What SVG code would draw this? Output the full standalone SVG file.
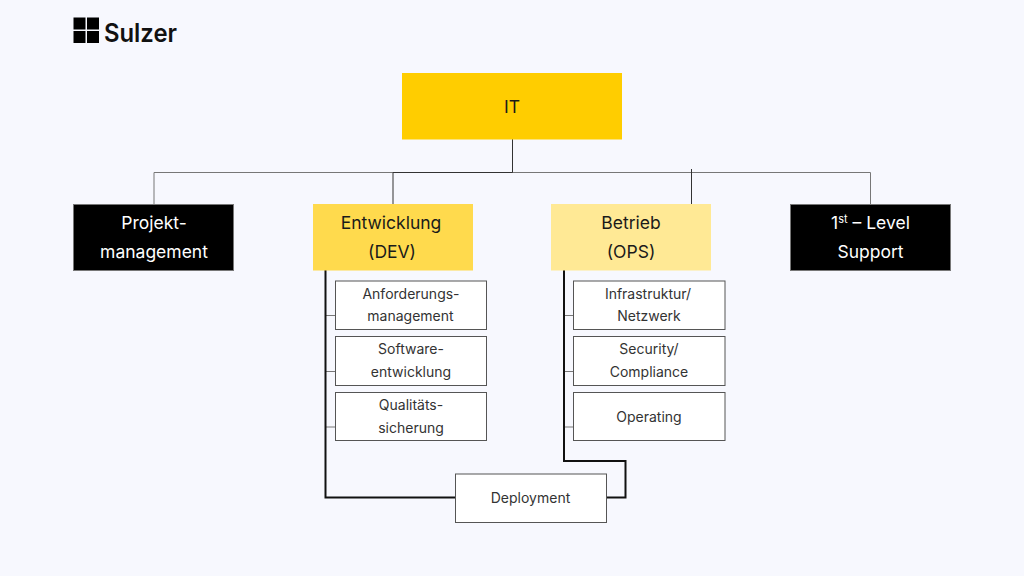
<svg xmlns="http://www.w3.org/2000/svg" width="1024" height="576" viewBox="0 0 1024 576">
<style>
text{font-family:Inter,"Liberation Sans",Arial,sans-serif;text-anchor:middle;fill:#1a1a1a}
.big{font-size:17.5px}
.small{font-size:14px;fill:#333}
.w{fill:#fff}
.box{fill:#fff;stroke:#555;stroke-width:1}
.thin{fill:none;stroke:#777;stroke-width:1}
.dark{fill:none;stroke:#333;stroke-width:1}
.thick{fill:none;stroke:#111;stroke-width:2}
</style>
<rect width="1024" height="576" fill="#f7f8fe"/>
<g id="connectors">
<path class="thin" d="M154 204V172.500H870.500V204"/>
<path class="thin" d="M326 315.500H336M326 371.500H336M326 427H336M564 315.500H574M564 371.500H574M564 427H574"/>
<path class="dark" d="M393 204V172.500H512.500V139"/>
<path class="dark" d="M691.500 204V169"/>
<path class="thick" d="M325.500 270V497.500H456"/>
<path class="thick" d="M564 270V461H625.500V497.500H606"/>
</g>
<g id="logo">
<path fill="#000" d="M73.500 17.500h12v12h-12zM87 17.500h12v12h-12zM73.500 31h12v12h-12zM87 31h12v12h-12z"/>
<text x="140.500" y="42" style="font-size:25px;font-weight:600;fill:#111" textLength="73" lengthAdjust="spacingAndGlyphs">Sulzer</text>
</g>
<g id="it"><rect x="402" y="73" width="220" height="66.500" fill="#ffcd00"/><text class="big" x="512" y="113">IT</text></g>
<g id="pm"><rect x="73.500" y="204.500" width="160" height="66" fill="#000" stroke="#777" stroke-width="1"/><text class="big w" x="154" y="229">Projekt-</text><text class="big w" x="154" y="258">management</text></g>
<g id="dev"><rect x="313" y="204" width="160" height="66.500" fill="#ffda4d"/><text class="big" x="391" y="229">Entwicklung</text><text class="big" x="392" y="258">(DEV)</text></g>
<g id="ops"><rect x="551" y="204" width="160" height="66.500" fill="#ffe995"/><text class="big" x="631" y="229">Betrieb</text><text class="big" x="631" y="258">(OPS)</text></g>
<g id="support"><rect x="790.500" y="204.500" width="160" height="66" fill="#000" stroke="#777" stroke-width="1"/><text class="big w" x="870.500" y="229">1<tspan font-size="11" dy="-6" style="fill:#fff">st</tspan><tspan dy="6"> – Level</tspan></text><text class="big w" x="870.500" y="258">Support</text></g>
<g id="anf"><rect class="box" x="335.500" y="281" width="151" height="48.500"/><text class="small" x="411" y="299">Anforderungs-</text><text class="small" x="410.500" y="321">management</text></g>
<g id="sw"><rect class="box" x="335.500" y="336.500" width="151" height="49"/><text class="small" x="411" y="354">Software-</text><text class="small" x="411" y="376.500">entwicklung</text></g>
<g id="qa"><rect class="box" x="335.500" y="392.500" width="151" height="48"/><text class="small" x="411" y="410">Qualitäts-</text><text class="small" x="411" y="432.500">sicherung</text></g>
<g id="infra"><rect class="box" x="573.500" y="281" width="151.500" height="48.500"/><text class="small" x="648" y="299">Infrastruktur/</text><text class="small" x="649" y="321">Netzwerk</text></g>
<g id="sec"><rect class="box" x="573.500" y="336.500" width="151.500" height="49"/><text class="small" x="649" y="354">Security/</text><text class="small" x="649" y="376.500">Compliance</text></g>
<g id="op"><rect class="box" x="573.500" y="392.500" width="151.500" height="48"/><text class="small" x="649" y="421.500">Operating</text></g>
<g id="deploy"><rect class="box" x="455.500" y="474" width="151" height="48.500"/><text class="small" x="530.500" y="503">Deployment</text></g>
</svg>
